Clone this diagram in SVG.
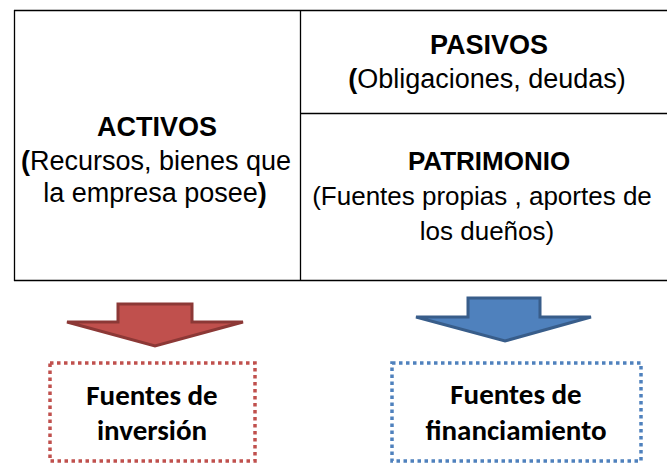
<svg xmlns="http://www.w3.org/2000/svg" width="667" height="463" viewBox="0 0 667 463">
<style>
.t{font-family:"Liberation Sans",Arial,sans-serif;font-size:27px;fill:#000;text-anchor:middle}
.s{font-size:26px}
.b{font-weight:bold}
.c{font-family:Carlito,Lato,"Open Sans",sans-serif;font-weight:bold;font-size:29px;fill:#000;text-anchor:middle}
.grid{stroke:#000;stroke-width:1.3;fill:none}
.box{fill:#fff;stroke-width:3.5;stroke-dasharray:3.5 3.5}
</style>
<rect width="667" height="463" fill="#fff"/>
<g id="table">
<path class="grid" d="M14 10.5H667M14 280.5H667M14.5 10V281M300.5 10V281M300 113.5H667"/>
</g>
<g id="activos">
<text class="t" x="157" y="136"><tspan class="b">ACTIVOS</tspan></text>
<text class="t" x="156" y="170"><tspan class="b">(</tspan>Recursos, bienes que</text>
<text class="t" x="155" y="202">la empresa posee<tspan class="b">)</tspan></text>
</g>
<g id="pasivos">
<text class="t" x="489" y="54"><tspan class="b">PASIVOS</tspan></text>
<text class="t" x="487" y="88"><tspan class="b">(</tspan>Obligaciones, deudas)</text>
</g>
<g id="patrimonio">
<text class="t s" x="489" y="170"><tspan class="b">PATRIMONIO</tspan></text>
<text class="t s" x="482" y="205">(Fuentes propias , aportes de</text>
<text class="t s" x="487" y="240">los dueños)</text>
</g>
<g id="connectors">
<path d="M118 304H192V322H243L155 346L67 322H118Z" fill="#C0504D" stroke="#8C3836" stroke-width="3" stroke-linejoin="miter"/>
<path d="M468 298H540V317H591L505 341L416 317H468Z" fill="#4F81BD" stroke="#385D8A" stroke-width="3" stroke-linejoin="miter"/>
</g>
<g id="inversion">
<rect class="box" x="50" y="363" width="205" height="98" stroke="#C0504D"/>
<text class="c" x="152" y="405">Fuentes de</text>
<text class="c" x="152" y="440">inversión</text>
</g>
<g id="financiamiento">
<rect class="box" x="392" y="363" width="249" height="98" stroke="#4F81BD"/>
<text class="c" x="516" y="404">Fuentes de</text>
<text class="c" x="516" y="440">financiamiento</text>
</g>
</svg>
